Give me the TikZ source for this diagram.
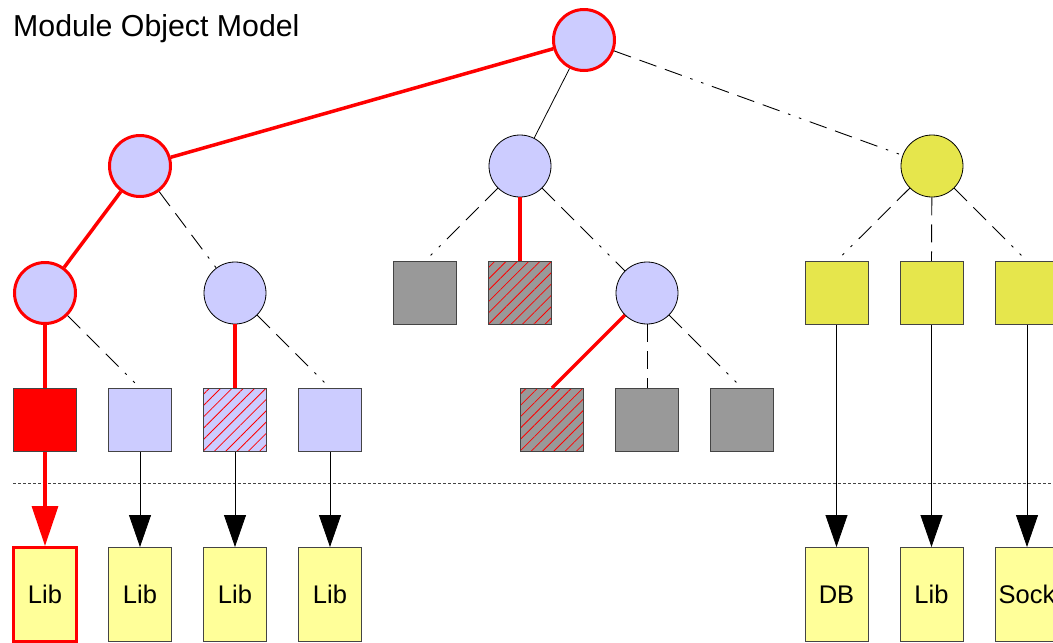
\documentclass[tikz,border=0pt]{standalone}
\usepackage{fontspec}
\setmainfont{Liberation Sans}
\usetikzlibrary{arrows.meta,patterns.meta}
\definecolor{lav}{HTML}{CCCCFF}
\definecolor{gry}{HTML}{999999}
\definecolor{ylw}{HTML}{E6E64C}
\definecolor{lyl}{HTML}{FFFF99}
\definecolor{edgegray}{HTML}{444444}
\begin{document}
\begin{tikzpicture}[x=1pt,y=-1pt,
  circ/.style={circle,draw=black,line width=0.8pt,fill=#1,minimum size=62pt,inner sep=0pt},
  redcirc/.style={circle,draw=red,line width=3pt,fill=lav,minimum size=61pt,inner sep=0pt},
  sq/.style={rectangle,draw=edgegray,line width=1pt,fill=#1,minimum width=63pt,minimum height=63pt,inner sep=0pt},
  hatchsq/.style={rectangle,draw=edgegray,line width=1pt,preaction={fill=#1},
     pattern={Lines[angle=45,distance=8pt,line width=0.8pt]},pattern color=red,
     minimum width=63pt,minimum height=63pt,inner sep=0pt},
  libbox/.style={rectangle,draw=edgegray,line width=1pt,fill=lyl,minimum width=63pt,minimum height=94pt,inner sep=0pt,font=\fontsize{25.5}{27}\selectfont},
  redline/.style={draw=red,line width=3.5pt},
  thin/.style={draw=black,line width=0.8pt},
  dashdot/.style={draw=black,line width=0.9pt,dash pattern=on 18pt off 9pt on 18pt off 9pt on 18pt off 9pt on 2.5pt off 9pt on 2.5pt off 9pt},
  arr/.style={draw=black,line width=0.8pt,-{Triangle[length=32pt,width=22pt]}},
  redarr/.style={draw=red,line width=3.5pt,-{Triangle[length=40pt,width=26pt]}},
  sep/.style={draw=edgegray,line width=0.8pt,dash pattern=on 2.5pt off 2.5pt}
]
\useasboundingbox (0,0) rectangle (1053,643);
\clip (0,0) rectangle (1053,643);

\node[anchor=base west,inner sep=0pt,font=\fontsize{30.3}{32}\selectfont] (title) at (13,36) {Module Object Model};

% circles
\node[redcirc] (root) at (584,40) {};
\node[redcirc] (a) at (140,166) {};
\node[circ=lav] (b) at (520,166) {};
\node[circ=ylw] (c) at (932,166) {};
\node[redcirc] (a1) at (45,293) {};
\node[circ=lav] (a2) at (235,293) {};
\node[circ=lav] (b3) at (647,293) {};

% level-3 squares
\node[sq=gry] (b1) at (425,293) {};
\node[hatchsq=gry] (b2) at (520,293) {};
\node[sq=ylw] (c1) at (836.5,293) {};
\node[sq=ylw] (c2) at (931.5,293) {};
\node[sq=ylw] (c3) at (1027,293) {};

% level-4 squares
\node[sq=red] (s1) at (45,420) {};
\node[sq=lav] (s2) at (140,420) {};
\node[hatchsq=lav] (s3) at (235,420) {};
\node[sq=lav] (s4) at (330,420) {};
\node[hatchsq=gry] (t1) at (552,420) {};
\node[sq=gry] (t2) at (647,420) {};
\node[sq=gry] (t3) at (742,420) {};

% library boxes
\node[libbox,draw=red,line width=3pt] (L1) at (45,594.5) {Lib};
\node[libbox] (L2) at (140,594.5) {Lib};
\node[libbox] (L3) at (235,594.5) {Lib};
\node[libbox] (L4) at (330,594.5) {Lib};
\node[libbox] (D) at (836.5,594.5) {DB};
\node[libbox] (L5) at (931.5,594.5) {Lib};
\node[libbox] (S) at (1027,594.5) {Sock};

% separator
\coordinate (sepL) at (13,483);
\coordinate (sepR) at (1053,483);
\draw[sep] (sepL) -- (sepR);

% tree edges
\draw[redline] (root) -- (a);
\draw[thin] (root) -- (b);
\draw[dashdot] (root) -- (c);
\draw[redline] (a) -- (a1);
\draw[dashdot] (a) -- (a2);
\draw[redline] (a1) -- (s1.north);
\draw[dashdot] (a1) -- (s2.north);
\draw[redline] (a2) -- (s3.north);
\draw[dashdot] (a2) -- (s4.north);
\draw[dashdot] (b) -- (b1.north);
\draw[redline] (b) -- (b2.north);
\draw[dashdot] (b) -- (b3);
\draw[redline] (b3) -- (t1.north);
\draw[dashdot] (b3) -- (t2.north);
\draw[dashdot] (b3) -- (t3.north);
\draw[dashdot] (c) -- (c1.north);
\draw[dashdot] (c) -- (c2.north);
\draw[dashdot] (c) -- (c3.north);

% arrows to libraries
\draw[redarr] (s1.south) -- (L1.north);
\draw[arr] (s2.south) -- (L2.north);
\draw[arr] (s3.south) -- (L3.north);
\draw[arr] (s4.south) -- (L4.north);
\draw[arr] (c1.south) -- (D.north);
\draw[arr] (c2.south) -- (L5.north);
\draw[arr] (c3.south) -- (S.north);
\end{tikzpicture}
\end{document}
